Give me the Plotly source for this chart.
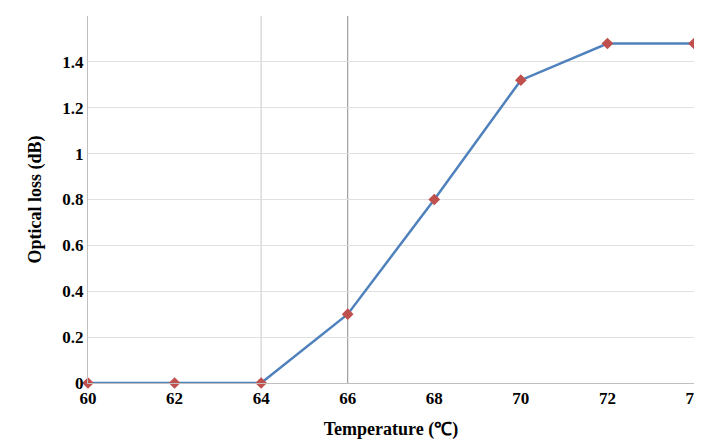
import plotly.graph_objects as go

temps = [60, 62, 64, 66, 68, 70, 72, 74]
loss = [0, 0, 0, 0.3, 0.8, 1.32, 1.48, 1.48]

fig = go.Figure()
fig.add_trace(go.Scatter(x=temps, y=loss, mode="lines+markers", cliponaxis=False,
    line=dict(color="#4F81BD", width=2.5),
    marker=dict(symbol="diamond", size=9, color="#C0504D")))
for xv, c in [(64, "#c8c8c8"), (66, "#8c8c8c")]:
    fig.add_shape(type="line", x0=xv, x1=xv, y0=0, y1=1.6, xref="x", yref="y",
                  line=dict(color=c, width=1), layer="below")
tf = dict(family="Liberation Serif", size=17, weight="bold", color="black")
fig.update_layout(width=702, height=442, margin=dict(l=80, r=16, t=8, b=67),
    plot_bgcolor="white", paper_bgcolor="white", showlegend=False,
    font=dict(family="Liberation Serif", size=17, color="black"))
fig.update_xaxes(range=[60, 74], dtick=2, showgrid=False, showline=True, automargin=False,
    linecolor="#bfbfbf", ticks="", tickfont=tf,
    title=dict(text="<b>Temperature (℃)</b>", standoff=14, font=dict(size=18)))
fig.update_yaxes(range=[0, 1.6], showgrid=True, gridcolor="#e0e0e0", automargin=False,
    showline=True, linecolor="#bfbfbf", zeroline=False, ticks="",
    tickvals=[0, 0.2, 0.4, 0.6, 0.8, 1, 1.2, 1.4, 1.6],
    ticktext=["0", "0.2", "0.4", "0.6", "0.8", "1", "1.2", "1.4", "1.6"],
    tickfont=tf,
    title=dict(text="<b>Optical loss (dB)</b>", standoff=16, font=dict(size=18)))
fig.write_html("out.html")
